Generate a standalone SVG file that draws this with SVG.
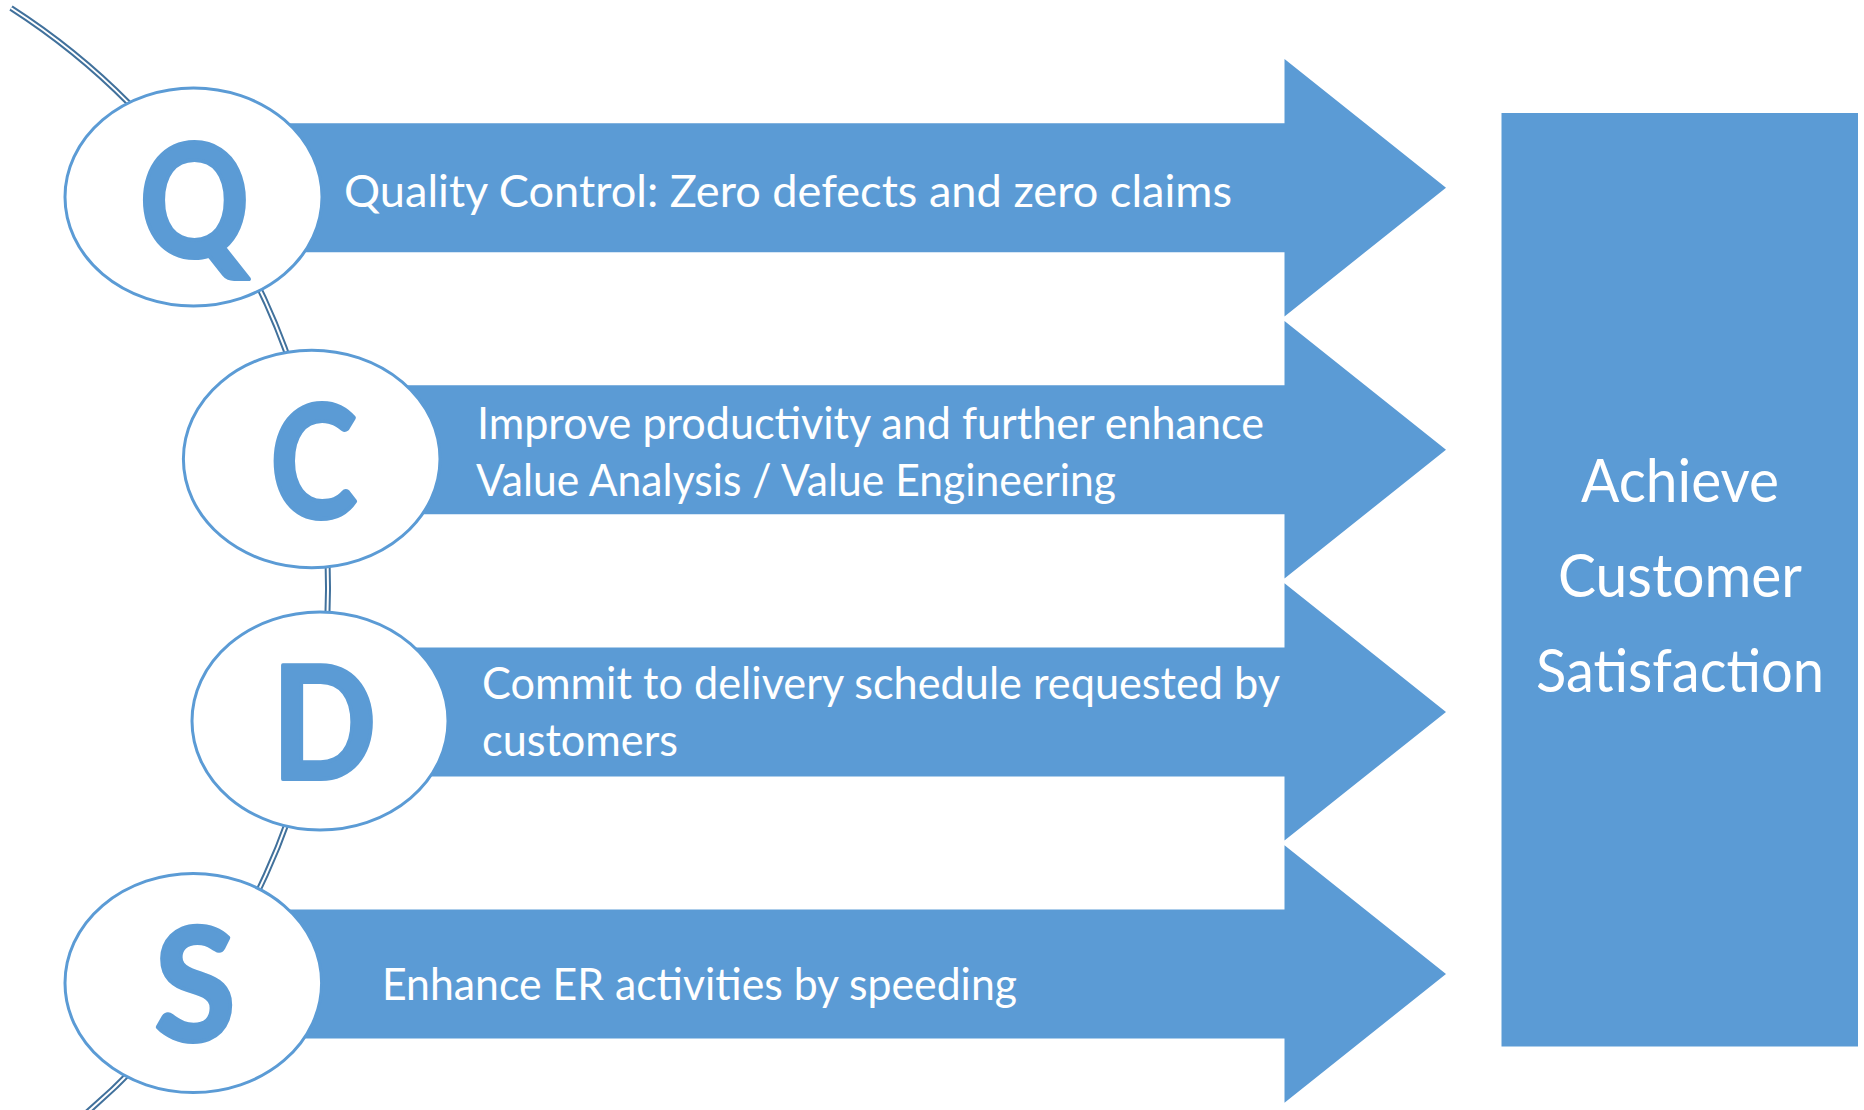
<svg xmlns="http://www.w3.org/2000/svg" width="1864" height="1110" viewBox="0 0 1864 1110">
<style>
.arrow{fill:#5B9BD5}
.oval{fill:#FFFFFF;stroke:#5B9BD5;stroke-width:3}
.letter{font-family:Lato,"Open Sans",sans-serif;font-weight:700;font-size:158px;fill:#5B9BD5;stroke:#5B9BD5;stroke-width:4;stroke-linejoin:round;text-anchor:middle}
.label{font-family:Lato,"Open Sans",sans-serif;font-size:45px;fill:#FFFFFF}
.goal{font-family:Lato,"Open Sans",sans-serif;font-size:60px;fill:#FFFFFF;text-anchor:middle}
.wire-out{fill:none;stroke:#41719C;stroke-width:6}
.wire-in{fill:none;stroke:#FFFFFF;stroke-width:2}
</style>
<rect width="1864" height="1110" fill="#FFFFFF"/>

<g id="arrow-q">
<polygon class="arrow" points="200,123.2 1284.5,123.2 1284.5,59 1446,187.7 1284.5,316.4 1284.5,252.2 200,252.2"/>
<text class="label" x="344" y="207" textLength="888" lengthAdjust="spacingAndGlyphs">Quality Control: Zero defects and zero claims</text>
</g>
<g id="arrow-c">
<polygon class="arrow" points="312,385.3 1284.5,385.3 1284.5,321.1 1446,449.8 1284.5,578.5 1284.5,514.3 312,514.3"/>
<text class="label" x="477" y="439" textLength="787" lengthAdjust="spacingAndGlyphs">Improve productivity and further enhance</text>
<text class="label" x="476" y="496" textLength="640" lengthAdjust="spacingAndGlyphs">Value Analysis / Value Engineering</text>
</g>
<g id="arrow-d">
<polygon class="arrow" points="320,647.4 1284.5,647.4 1284.5,583.2 1446,711.9 1284.5,840.6 1284.5,776.4 320,776.4"/>
<text class="label" x="482" y="699" textLength="798" lengthAdjust="spacingAndGlyphs">Commit to delivery schedule requested by</text>
<text class="label" x="482" y="756" textLength="196" lengthAdjust="spacingAndGlyphs">customers</text>
</g>
<g id="arrow-s">
<polygon class="arrow" points="200,909.5 1284.5,909.5 1284.5,845.3 1446,974 1284.5,1102.7 1284.5,1038.5 200,1038.5"/>
<text class="label" x="382" y="1000" textLength="635" lengthAdjust="spacingAndGlyphs">Enhance ER activities by speeding</text>
</g>

<g id="goal">
<rect class="arrow" x="1501.5" y="113" width="356.5" height="933.5"/>
<text class="goal" x="1680" y="502" textLength="198" lengthAdjust="spacingAndGlyphs">Achieve</text>
<text class="goal" x="1680" y="597" textLength="244" lengthAdjust="spacingAndGlyphs">Customer</text>
<text class="goal" x="1680" y="692" textLength="288" lengthAdjust="spacingAndGlyphs">Satisfaction</text>
</g>

<g id="connectors">
<path class="wire-out" d="M 11 8 A 690 690 0 0 1 84 1115"/>
<path class="wire-in" d="M 11 8 A 690 690 0 0 1 84 1115"/>
</g>

<g id="node-q">
<ellipse class="oval" cx="193.5" cy="197" rx="128.5" ry="109"/>
<text class="letter" x="194.5" y="257" transform="matrix(0.86 0 0 1 27.2 0)">Q</text>
</g>
<g id="node-c">
<ellipse class="oval" cx="311.7" cy="459" rx="128.3" ry="108.8"/>
<text class="letter" x="313.5" y="518" transform="matrix(0.83 0 0 1 53.3 0)">C</text>
</g>
<g id="node-d">
<ellipse class="oval" cx="320" cy="721" rx="128" ry="109"/>
<text class="letter" x="324" y="779" transform="matrix(0.87 0 0 1 42.1 0)">D</text>
</g>
<g id="node-s">
<ellipse class="oval" cx="193.3" cy="983" rx="128.3" ry="109.5"/>
<text class="letter" x="195" y="1041" transform="matrix(0.94 0 0 1 11.7 0)">S</text>
</g>
</svg>
